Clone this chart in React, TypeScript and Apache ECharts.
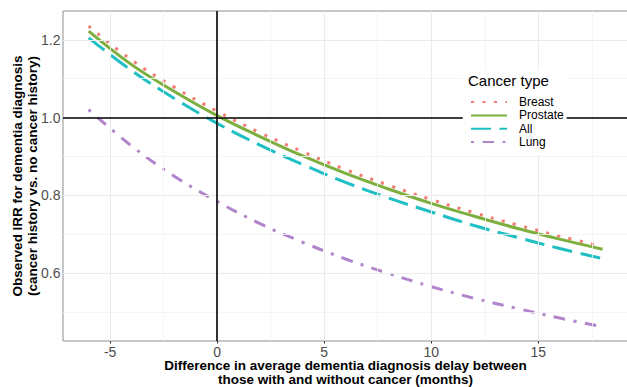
import React, { useEffect, useRef } from "react";
import * as echarts from "echarts";

const months = [-6, -4, -2, 0, 2, 4, 6, 8, 10, 12, 14, 16, 18];
const breast = [1.235, 1.148, 1.078, 1.016, 0.961, 0.912, 0.866, 0.826, 0.789, 0.755, 0.724, 0.695, 0.668];
const prostate = [1.222, 1.136, 1.067, 1.005, 0.951, 0.901, 0.856, 0.816, 0.779, 0.746, 0.715, 0.687, 0.661];
const allCancer = [1.205, 1.121, 1.049, 0.985, 0.929, 0.879, 0.833, 0.793, 0.757, 0.722, 0.692, 0.663, 0.637];
const lung = [1.02, 0.927, 0.849, 0.784, 0.727, 0.679, 0.636, 0.599, 0.565, 0.535, 0.509, 0.484, 0.462];

const xTicks = [-5, 0, 5, 10, 15];
const xMinor = [-2.5, 2.5, 7.5, 12.5, 17.5];
const yTicks = [0.6, 0.8, 1.0, 1.2];
const yMinor = [0.5, 0.7, 0.9, 1.1];
const xLimits = [-7.2, 19.2];
const yLimits = [0.425, 1.274];
const refX = 0;
const refY = 1.0;

const FONT = '"Liberation Sans", Arial, sans-serif';

const pair = (xs: number[], ys: number[]) => xs.map((x, i) => [x, ys[i]]);

export default function App() {
  const ref = useRef<HTMLDivElement>(null);
  useEffect(() => {
    if (!ref.current) return;
    const chart = echarts.init(ref.current, null, { renderer: "svg" });
    const lw = 3;
    const mk = (name: string, data: number[], color: string, type: any) => ({
      name,
      type: "line",
      data: pair(months, data),
      smooth: 0.4,
      symbol: "none",
      showSymbol: false,
      z: 3,
      lineStyle: { color, width: lw, type, cap: "butt" },
      itemStyle: { color },
    });
    const gridLine = (axis: "xAxis" | "yAxis", v: number, color: string, width: number) => ({
      [axis]: v,
      lineStyle: { color, width, type: "solid" },
    });
    chart.setOption({
      animation: false,
      grid: { left: 63, top: 11, right: -1.2, bottom: 46, show: true, borderColor: "#8f8f8f", borderWidth: 1, backgroundColor: "#fff", containLabel: false, outerBoundsMode: "none" },
      xAxis: {
        type: "value",
        min: xLimits[0],
        max: xLimits[1],
        splitLine: { show: false },
        axisLine: { show: false },
        axisTick: { show: true, length: 2.5, lineStyle: { color: "#333" }, customValues: xTicks },
        axisLabel: { color: "#4d4d4d", fontSize: 14, fontFamily: FONT, margin: 3.5, customValues: xTicks },
      },
      yAxis: {
        type: "value",
        min: yLimits[0],
        max: yLimits[1],
        splitLine: { show: false },
        axisLine: { show: false },
        axisTick: { show: true, length: 2.5, lineStyle: { color: "#333" }, customValues: yTicks },
        axisLabel: { color: "#4d4d4d", fontSize: 14, fontFamily: FONT, margin: 2.5, customValues: yTicks, formatter: (v: number) => v.toFixed(1) },
      },
      legend: {
        data: ["Breast", "Prostate", "All", "Lung"],
        orient: "vertical",
        left: 470,
        top: 95.6,
        itemWidth: 36,
        itemHeight: 13,
        itemGap: 0.3,
        padding: 0,
        z: 20,
        itemStyle: { color: "rgba(0,0,0,0)", borderColor: "rgba(0,0,0,0)", borderWidth: 0, opacity: 0 },
        textStyle: { fontSize: 12, color: "#000", fontFamily: FONT, lineHeight: 13, padding: [0, 0, 0, 7] },
      },
      graphic: [
        { type: "rect", z: 10, shape: { x: 462.7, y: 70, width: 104, height: 85 }, style: { fill: "#fff" } },
        { type: "text", z: 20, x: 468, y: 80.5, style: { text: "Cancer type", fontSize: 15, fontFamily: FONT, fill: "#000", align: "left", verticalAlign: "middle" } },
        { type: "text", z: 20, x: 345.5, y: 372.5, style: { text: "Difference in average dementia diagnosis delay between\nthose with and without cancer (months)", fontSize: 13.5, fontWeight: "bold", fontFamily: FONT, fill: "#000", align: "center", verticalAlign: "middle", lineHeight: 14 } },
        { type: "text", z: 20, x: 25, y: 176, rotation: Math.PI / 2, style: { text: "Observed IRR for dementia diagnosis\n(cancer history vs. no cancer history)", fontSize: 13.5, fontWeight: "bold", fontFamily: FONT, fill: "#000", align: "center", verticalAlign: "middle", lineHeight: 15.5 } },
      ],
      series: [
        {
          name: "gridlines",
          type: "line",
          data: [],
          z: 1,
          silent: true,
          markLine: {
            silent: true,
            symbol: "none",
            label: { show: false },
            animation: false,
            data: [
              ...xMinor.map((v) => gridLine("xAxis", v, "#f2f2f2", 0.8)),
              ...yMinor.map((v) => gridLine("yAxis", v, "#f2f2f2", 0.8)),
              ...xTicks.map((v) => gridLine("xAxis", v, "#ebebeb", 1)),
              ...yTicks.map((v) => gridLine("yAxis", v, "#ebebeb", 1)),
            ],
          },
        },
        mk("Breast", breast, "#f07b72", [3, 8.5]),
        mk("Prostate", prostate, "#7daf3e", "solid"),
        mk("All", allCancer, "#1fbfc4", [20, 8.5]),
        mk("Lung", lung, "#b184cb", [3, 8.5, 11.5, 8.5]),
        {
          name: "reference",
          type: "line",
          data: [],
          z: 5,
          silent: true,
          markLine: {
            silent: true,
            symbol: "none",
            label: { show: false },
            animation: false,
            data: [gridLine("xAxis", refX, "#000", 1.6), gridLine("yAxis", refY, "#000", 1.6)],
          },
        },
      ],
    });
    return () => chart.dispose();
  }, []);
  return <div ref={ref} style={{ position: "fixed", left: 0, top: 0, width: 627, height: 387, background: "#fff" }} />;
}
